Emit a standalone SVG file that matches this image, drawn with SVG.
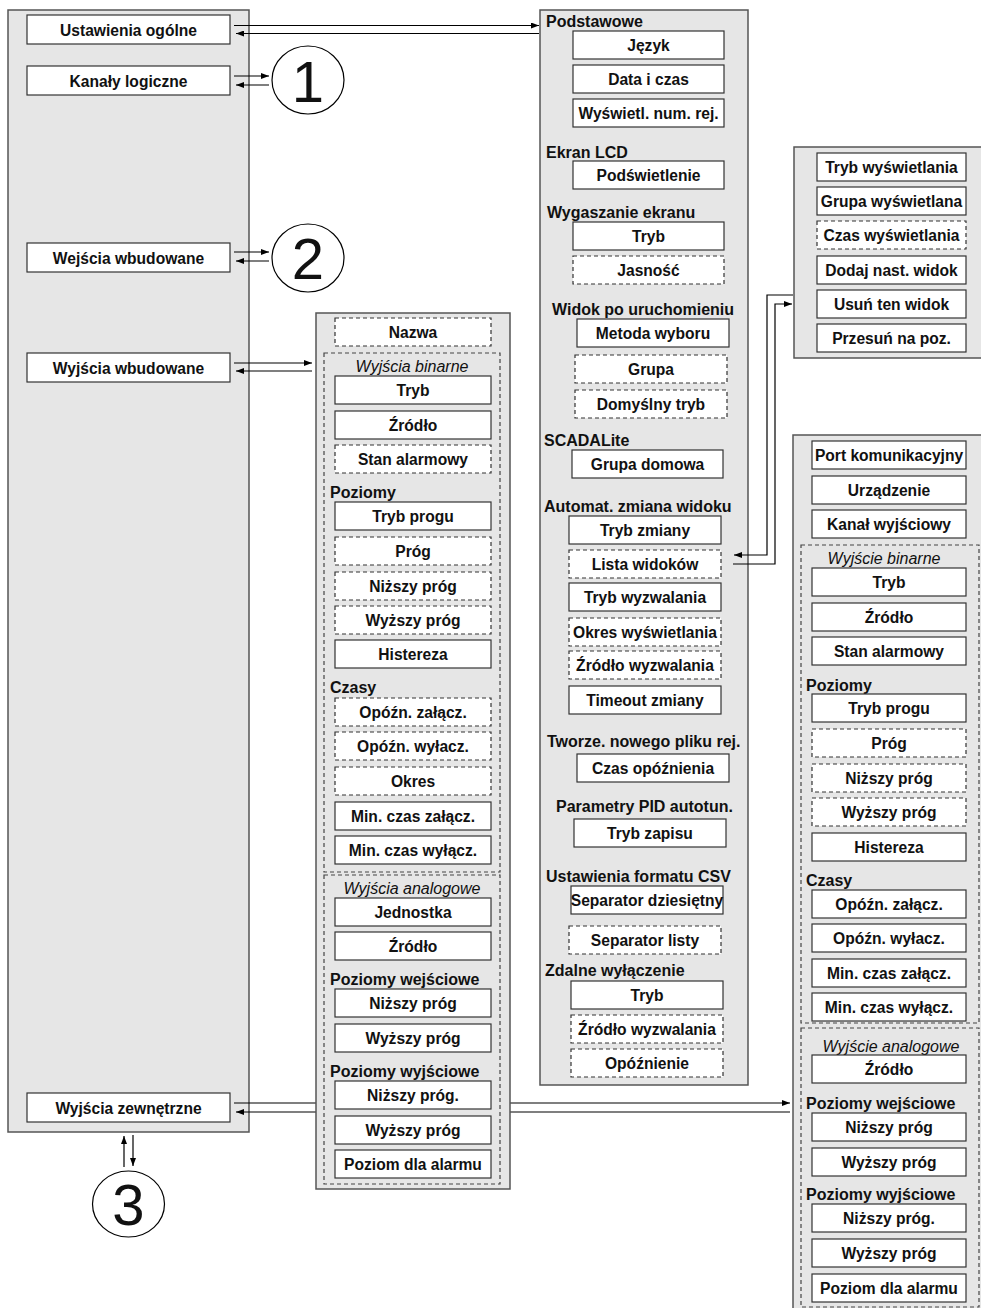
<svg xmlns="http://www.w3.org/2000/svg" width="981" height="1308" viewBox="0 0 981 1308">
<style>
.panel{fill:#e6e6e6;stroke:#555;stroke-width:1.5}
.box{fill:#fff;stroke:#333;stroke-width:1.2}
.dbox{fill:#fff;stroke:#333;stroke-width:1.2;stroke-dasharray:4 3}
.grp{fill:none;stroke:#444;stroke-width:1.2;stroke-dasharray:4 3}
text{font-family:"Liberation Sans",Arial,sans-serif;fill:#111}
.t{font-weight:bold;font-size:15.6px;text-anchor:middle}
.h{font-weight:bold;font-size:16px}
.it{font-style:italic;font-size:16px;text-anchor:middle}
.num{font-size:58px;text-anchor:middle}
.conn{fill:none;stroke:#000;stroke-width:1.2}
.circ{fill:#fff;stroke:#000;stroke-width:1.2}
</style>
<defs>
<marker id="ar" viewBox="0 0 8 6" refX="8" refY="3" markerWidth="8" markerHeight="6" markerUnits="userSpaceOnUse" orient="auto"><path d="M0,0 L8,3 L0,6 z" fill="#000"/></marker>
</defs>

<g id="left-panel">
<rect class="panel" x="8" y="10" width="241" height="1122"/>
<g id="ustawienia-ogolne"><rect class="box" x="27" y="15" width="203" height="29"/><text class="t" x="128.5" y="35.5">Ustawienia ogólne</text></g>
<g id="kanaly-logiczne"><rect class="box" x="27" y="66" width="203" height="29"/><text class="t" x="128.5" y="86.5">Kanały logiczne</text></g>
<g id="wejscia-wbudowane"><rect class="box" x="27" y="243" width="203" height="29"/><text class="t" x="128.5" y="263.5">Wejścia wbudowane</text></g>
<g id="wyjscia-wbudowane"><rect class="box" x="27" y="353" width="203" height="29"/><text class="t" x="128.5" y="373.5">Wyjścia wbudowane</text></g>
<g id="wyjscia-zewnetrzne"><rect class="box" x="27" y="1093" width="203" height="29"/><text class="t" x="128.5" y="1113.5">Wyjścia zewnętrzne</text></g>
</g>

<g id="general-panel">
<rect class="panel" x="540" y="10" width="208" height="1075"/>
<text class="h" x="546" y="26.5">Podstawowe</text>
<g id="g-jezyk"><rect class="box" x="573" y="31" width="151" height="28"/><text class="t" x="648.5" y="50.5">Język</text></g>
<g id="g-data"><rect class="box" x="573" y="65" width="151" height="28"/><text class="t" x="648.5" y="84.5">Data i czas</text></g>
<g id="g-wysw"><rect class="box" x="573" y="99" width="151" height="28"/><text class="t" x="648.5" y="118.5">Wyświetl. num. rej.</text></g>
<text class="h" x="546" y="157.5">Ekran LCD</text>
<g id="g-podsw"><rect class="box" x="573" y="161" width="151" height="28"/><text class="t" x="648.5" y="180.5">Podświetlenie</text></g>
<text class="h" x="547" y="217.5">Wygaszanie ekranu</text>
<g id="g-tryb1"><rect class="box" x="573" y="222" width="151" height="28"/><text class="t" x="648.5" y="241.5">Tryb</text></g>
<g id="g-jasnosc"><rect class="dbox" x="573" y="256" width="151" height="28"/><text class="t" x="648.5" y="275.5">Jasność</text></g>
<text class="h" x="552" y="314.5">Widok po uruchomieniu</text>
<g id="g-metoda"><rect class="box" x="577" y="319" width="152" height="28"/><text class="t" x="653" y="338.5">Metoda wyboru</text></g>
<g id="g-grupa"><rect class="dbox" x="575" y="355" width="152" height="28"/><text class="t" x="651" y="374.5">Grupa</text></g>
<g id="g-domyslny"><rect class="dbox" x="575" y="390" width="152" height="28"/><text class="t" x="651" y="409.5">Domyślny tryb</text></g>
<text class="h" x="544" y="445.5">SCADALite</text>
<g id="g-grupadom"><rect class="box" x="572" y="450" width="151" height="28"/><text class="t" x="647.5" y="469.5">Grupa domowa</text></g>
<text class="h" x="544" y="511.5">Automat. zmiana widoku</text>
<g id="g-trybzm"><rect class="box" x="569" y="516" width="152" height="28"/><text class="t" x="645" y="535.5">Tryb zmiany</text></g>
<g id="g-lista"><rect class="dbox" x="569" y="550" width="152" height="28"/><text class="t" x="645" y="569.5">Lista widoków</text></g>
<g id="g-trybwyzw"><rect class="box" x="569" y="583" width="152" height="28"/><text class="t" x="645" y="602.5">Tryb wyzwalania</text></g>
<g id="g-okres"><rect class="dbox" x="569" y="618" width="152" height="28"/><text class="t" x="645" y="637.5">Okres wyświetlania</text></g>
<g id="g-zrodlo1"><rect class="dbox" x="569" y="651" width="152" height="28"/><text class="t" x="645" y="670.5">Źródło wyzwalania</text></g>
<g id="g-timeout"><rect class="box" x="569" y="686" width="152" height="28"/><text class="t" x="645" y="705.5">Timeout zmiany</text></g>
<text class="h" x="547" y="746.5">Tworze. nowego pliku rej.</text>
<g id="g-czasop"><rect class="box" x="577" y="754" width="152" height="28"/><text class="t" x="653" y="773.5">Czas opóźnienia</text></g>
<text class="h" x="556" y="811.5">Parametry PID autotun.</text>
<g id="g-trybzap"><rect class="box" x="574" y="819" width="152" height="28"/><text class="t" x="650" y="838.5">Tryb zapisu</text></g>
<text class="h" x="546" y="881.5">Ustawienia formatu CSV</text>
<g id="g-sepdz"><rect class="box" x="571" y="886" width="152" height="28"/><text class="t" x="647" y="905.5">Separator dziesiętny</text></g>
<g id="g-seplis"><rect class="dbox" x="569" y="926" width="152" height="28"/><text class="t" x="645" y="945.5">Separator listy</text></g>
<text class="h" x="545" y="975.5">Zdalne wyłączenie</text>
<g id="g-tryb2"><rect class="box" x="571" y="981" width="152" height="28"/><text class="t" x="647" y="1000.5">Tryb</text></g>
<g id="g-zrodlo2"><rect class="dbox" x="571" y="1015" width="152" height="28"/><text class="t" x="647" y="1034.5">Źródło wyzwalania</text></g>
<g id="g-opozn"><rect class="dbox" x="571" y="1049" width="152" height="28"/><text class="t" x="647" y="1068.5">Opóźnienie</text></g>
</g>

<g id="view-panel">
<rect class="panel" x="794" y="147" width="200" height="211"/>
<g><rect class="box" x="817" y="153" width="149" height="28"/><text class="t" x="891.5" y="172.5">Tryb wyświetlania</text></g>
<g><rect class="box" x="817" y="187" width="149" height="28"/><text class="t" x="891.5" y="206.5">Grupa wyświetlana</text></g>
<g><rect class="dbox" x="817" y="221" width="149" height="28"/><text class="t" x="891.5" y="240.5">Czas wyświetlania</text></g>
<g><rect class="box" x="817" y="256" width="149" height="28"/><text class="t" x="891.5" y="275.5">Dodaj nast. widok</text></g>
<g><rect class="box" x="817" y="290" width="149" height="28"/><text class="t" x="891.5" y="309.5">Usuń ten widok</text></g>
<g><rect class="box" x="817" y="324" width="149" height="28"/><text class="t" x="891.5" y="343.5">Przesuń na poz.</text></g>
</g>

<g id="external-panel">
<rect class="panel" x="793" y="435" width="200" height="890"/>
<g><rect class="box" x="812" y="441" width="154" height="28"/><text class="t" x="889" y="460.5">Port komunikacyjny</text></g>
<g><rect class="box" x="812" y="476" width="154" height="28"/><text class="t" x="889" y="495.5">Urządzenie</text></g>
<g><rect class="box" x="812" y="510" width="154" height="28"/><text class="t" x="889" y="529.5">Kanał wyjściowy</text></g>
<g id="e-binarne">
<rect class="grp" x="801" y="545" width="178" height="478"/>
<text class="it" x="884" y="563.5">Wyjście binarne</text>
<g><rect class="box" x="812" y="568" width="154" height="28"/><text class="t" x="889" y="587.5">Tryb</text></g>
<g><rect class="box" x="812" y="603" width="154" height="28"/><text class="t" x="889" y="622.5">Źródło</text></g>
<g><rect class="box" x="812" y="637" width="154" height="28"/><text class="t" x="889" y="656.5">Stan alarmowy</text></g>
<text class="h" x="806" y="690.5">Poziomy</text>
<g><rect class="box" x="812" y="694" width="154" height="28"/><text class="t" x="889" y="713.5">Tryb progu</text></g>
<g><rect class="dbox" x="812" y="729" width="154" height="28"/><text class="t" x="889" y="748.5">Próg</text></g>
<g><rect class="dbox" x="812" y="764" width="154" height="28"/><text class="t" x="889" y="783.5">Niższy próg</text></g>
<g><rect class="dbox" x="812" y="798" width="154" height="28"/><text class="t" x="889" y="817.5">Wyższy próg</text></g>
<g><rect class="box" x="812" y="833" width="154" height="28"/><text class="t" x="889" y="852.5">Histereza</text></g>
<text class="h" x="806" y="885.5">Czasy</text>
<g><rect class="box" x="812" y="890" width="154" height="28"/><text class="t" x="889" y="909.5">Opóźn. załącz.</text></g>
<g><rect class="box" x="812" y="924" width="154" height="28"/><text class="t" x="889" y="943.5">Opóźn. wyłacz.</text></g>
<g><rect class="box" x="812" y="959" width="154" height="28"/><text class="t" x="889" y="978.5">Min. czas załącz.</text></g>
<g><rect class="box" x="812" y="993" width="154" height="28"/><text class="t" x="889" y="1012.5">Min. czas wyłącz.</text></g>
</g>
<g id="e-analogowe">
<rect class="grp" x="801" y="1028" width="178" height="279"/>
<text class="it" x="891" y="1051.5">Wyjście analogowe</text>
<g><rect class="box" x="812" y="1055" width="154" height="28"/><text class="t" x="889" y="1074.5">Źródło</text></g>
<text class="h" x="806" y="1108.5">Poziomy wejściowe</text>
<g><rect class="box" x="812" y="1113" width="154" height="28"/><text class="t" x="889" y="1132.5">Niższy próg</text></g>
<g><rect class="box" x="812" y="1148" width="154" height="28"/><text class="t" x="889" y="1167.5">Wyższy próg</text></g>
<text class="h" x="806" y="1199.5">Poziomy wyjściowe</text>
<g><rect class="box" x="812" y="1204" width="154" height="28"/><text class="t" x="889" y="1223.5">Niższy próg.</text></g>
<g><rect class="box" x="812" y="1239" width="154" height="28"/><text class="t" x="889" y="1258.5">Wyższy próg</text></g>
<g><rect class="box" x="812" y="1274" width="154" height="28"/><text class="t" x="889" y="1293.5">Poziom dla alarmu</text></g>
</g>
</g>

<g id="connectors">
<path class="conn" d="M234,25.5 H539" marker-end="url(#ar)"/>
<path class="conn" d="M539,33.5 H236" marker-end="url(#ar)"/>
<path class="conn" d="M234,76 H269" marker-end="url(#ar)"/>
<path class="conn" d="M269,85 H236" marker-end="url(#ar)"/>
<path class="conn" d="M234,252 H269" marker-end="url(#ar)"/>
<path class="conn" d="M269,261 H236" marker-end="url(#ar)"/>
<path class="conn" d="M234,363 H312" marker-end="url(#ar)"/>
<path class="conn" d="M312,371 H236" marker-end="url(#ar)"/>
<path class="conn" d="M234,1103 H790" marker-end="url(#ar)"/>
<path class="conn" d="M790,1112 H236" marker-end="url(#ar)"/>
<path class="conn" d="M124,1167 V1136" marker-end="url(#ar)"/>
<path class="conn" d="M133,1135 V1166" marker-end="url(#ar)"/>
<path class="conn" d="M793,295 H767 V555 H734" marker-end="url(#ar)"/>
<path class="conn" d="M733,564 H775 V304 H792" marker-end="url(#ar)"/>
</g>

<g id="outputs-panel">
<rect class="panel" x="316" y="313" width="194" height="876"/>
<g id="o-nazwa"><rect class="dbox" x="335" y="318" width="156" height="28"/><text class="t" x="413" y="337.5">Nazwa</text></g>
<g id="o-binarne">
<rect class="grp" x="324" y="353" width="176" height="519"/>
<text class="it" x="412" y="371.5">Wyjścia binarne</text>
<g><rect class="box" x="335" y="376" width="156" height="28"/><text class="t" x="413" y="395.5">Tryb</text></g>
<g><rect class="box" x="335" y="411" width="156" height="28"/><text class="t" x="413" y="430.5">Źródło</text></g>
<g><rect class="dbox" x="335" y="445" width="156" height="28"/><text class="t" x="413" y="464.5">Stan alarmowy</text></g>
<text class="h" x="330" y="497.5">Poziomy</text>
<g><rect class="box" x="335" y="502" width="156" height="28"/><text class="t" x="413" y="521.5">Tryb progu</text></g>
<g><rect class="dbox" x="335" y="537" width="156" height="28"/><text class="t" x="413" y="556.5">Próg</text></g>
<g><rect class="dbox" x="335" y="572" width="156" height="28"/><text class="t" x="413" y="591.5">Niższy próg</text></g>
<g><rect class="dbox" x="335" y="606" width="156" height="28"/><text class="t" x="413" y="625.5">Wyższy próg</text></g>
<g><rect class="box" x="335" y="640" width="156" height="28"/><text class="t" x="413" y="659.5">Histereza</text></g>
<text class="h" x="330" y="692.5">Czasy</text>
<g><rect class="dbox" x="335" y="698" width="156" height="28"/><text class="t" x="413" y="717.5">Opóźn. załącz.</text></g>
<g><rect class="dbox" x="335" y="732" width="156" height="28"/><text class="t" x="413" y="751.5">Opóźn. wyłacz.</text></g>
<g><rect class="dbox" x="335" y="767" width="156" height="28"/><text class="t" x="413" y="786.5">Okres</text></g>
<g><rect class="box" x="335" y="802" width="156" height="28"/><text class="t" x="413" y="821.5">Min. czas załącz.</text></g>
<g><rect class="box" x="335" y="836" width="156" height="28"/><text class="t" x="413" y="855.5">Min. czas wyłącz.</text></g>
</g>
<g id="o-analogowe">
<rect class="grp" x="324" y="875" width="176" height="309"/>
<text class="it" x="412" y="893.5">Wyjścia analogowe</text>
<g><rect class="box" x="335" y="898" width="156" height="28"/><text class="t" x="413" y="917.5">Jednostka</text></g>
<g><rect class="box" x="335" y="932" width="156" height="28"/><text class="t" x="413" y="951.5">Źródło</text></g>
<text class="h" x="330" y="984.5">Poziomy wejściowe</text>
<g><rect class="box" x="335" y="989" width="156" height="28"/><text class="t" x="413" y="1008.5">Niższy próg</text></g>
<g><rect class="box" x="335" y="1024" width="156" height="28"/><text class="t" x="413" y="1043.5">Wyższy próg</text></g>
<text class="h" x="330" y="1076.5">Poziomy wyjściowe</text>
<g><rect class="box" x="335" y="1081" width="156" height="28"/><text class="t" x="413" y="1100.5">Niższy próg.</text></g>
<g><rect class="box" x="335" y="1116" width="156" height="28"/><text class="t" x="413" y="1135.5">Wyższy próg</text></g>
<g><rect class="box" x="335" y="1150" width="156" height="28"/><text class="t" x="413" y="1169.5">Poziom dla alarmu</text></g>
</g>
</g>

<g id="circle-1"><ellipse class="circ" cx="308" cy="80" rx="36" ry="34"/><text class="num" x="308" y="102">1</text></g>
<g id="circle-2"><ellipse class="circ" cx="308" cy="258" rx="36" ry="34"/><text class="num" x="308" y="279">2</text></g>
<g id="circle-3"><ellipse class="circ" cx="128.5" cy="1204" rx="36" ry="33"/><text class="num" x="128.5" y="1225">3</text></g>
</svg>
